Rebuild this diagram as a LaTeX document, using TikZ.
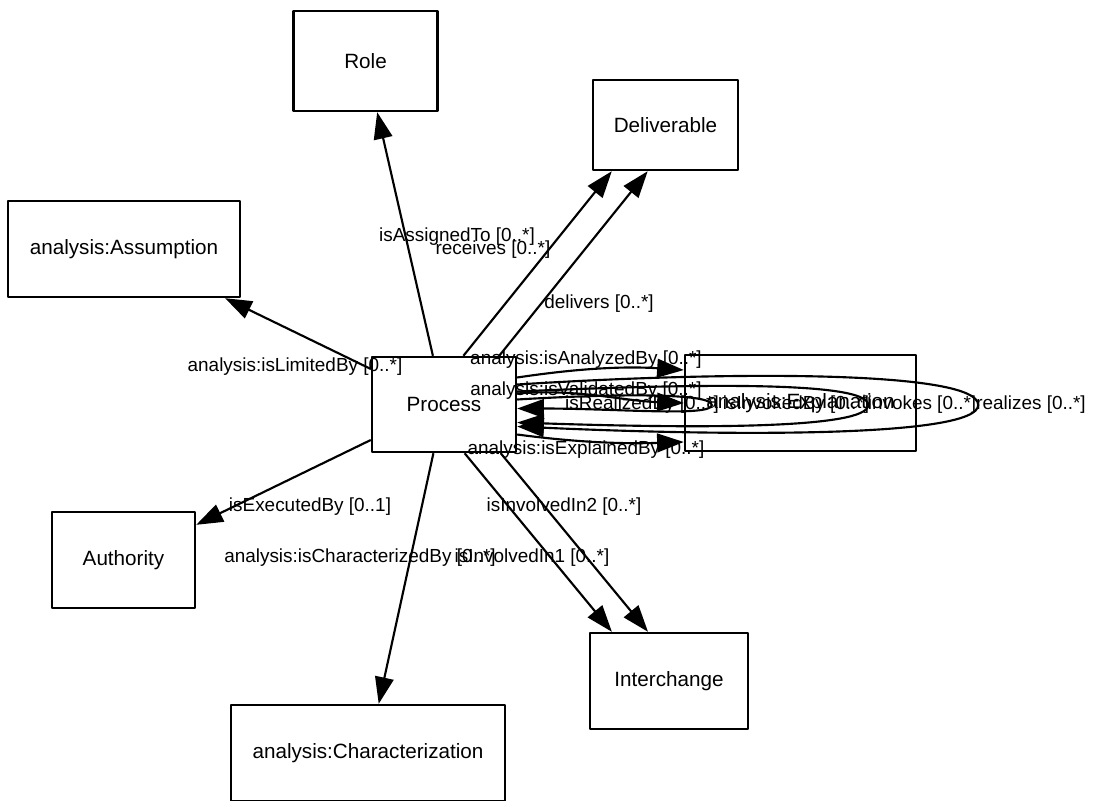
\documentclass[tikz,border=0pt]{standalone}
\usepackage{fontspec}
\setmainfont{Liberation Sans}
\usetikzlibrary{arrows.meta,calc}
\begin{document}
\begin{tikzpicture}[x=0.75pt,y=-0.75pt,
  every node/.style={font=\fontsize{14.2}{17}\selectfont},
  cls/.style={draw,line width=1.8pt,line join=round,inner sep=0pt,align=center,font=\fontsize{15.5}{18}\selectfont},
  rel/.style={line width=1.6pt,-{Triangle[length=20pt,width=14pt]}},
  lbl/.style={inner sep=0pt}]
\clip (0,0) rectangle (1099,800);
% classes
\node[cls,minimum width=108pt,minimum height=75pt] (role) at (365.5,61) {Role};
\node[cls,minimum width=108.75pt,minimum height=67.5pt] (deliv) at (665.5,125) {Deliverable};
\node[cls,minimum width=174pt,minimum height=72pt] (assump) at (124,249) {analysis:Assumption};
\node[cls,minimum width=108pt,minimum height=71.25pt] (process) at (444,404.5) {Process};
\node[cls,minimum width=173.25pt,minimum height=72pt] (expl) at (800.5,403) {analysis:Explanation};
\node[cls,minimum width=107.25pt,minimum height=72pt] (author) at (123.5,560) {Authority};
\node[cls,minimum width=118.5pt,minimum height=72pt] (inter) at (669,681) {Interchange};
\node[cls,minimum width=205.5pt,minimum height=72pt] (charac) at (368,753) {analysis:Characterization};
% straight relations
\draw[rel] (process) -- (role);
\draw[rel] (process) -- (assump);
\draw[rel] (process) -- (author);
\draw[rel] (process) -- (charac);
\draw[rel] ($(process.north)+(19.4,0)$) -- ($(deliv.south)+(-53.7,0)$);
\draw[rel] ($(process.north)+(55.2,0)$) -- ($(deliv.south)+(-17.8,0)$);
\draw[rel] ($(process.south)+(20.6,0)$) -- ($(inter.north)+(-57.1,0)$);
\draw[rel] ($(process.south)+(56.7,0)$) -- ($(inter.north)+(-21,0)$);
% Process -> Explanation
\draw[rel] ($(process.east)+(0,-27)$) .. controls +(60,-9) and +(-60,-4) .. ($(expl.west)+(0,-33)$);
\draw[rel] ($(process.east)+(0,-11)$) .. controls +(60,-5) and +(-60,-2) .. (expl.west);
\draw[rel] ($(process.east)+(0,30)$) .. controls +(60,8) and +(-60,2) .. ($(expl.west)+(0,39)$);
% loops
\draw[rel] ($(process.east)+(0,-20)$) .. controls +(220,-14) and +(0,-34) .. ($(expl.east)+(61,2)$)
  .. controls +(0,32) and +(220,10) .. ($(process.east)+(0,22)$);
\draw[rel] ($(process.east)+(0,-13)$) .. controls +(180,-8) and +(0,-24) .. ($(expl.east)+(-49,2)$)
  .. controls +(0,24) and +(180,6) .. ($(process.east)+(0,18)$);
\draw[rel] ($(process.east)+(0,-5)$) .. controls +(100,-6) and +(0,-12) .. ($(expl.west)+(28,2)$)
  .. controls +(0,12) and +(100,0) .. ($(process.east)+(0,4)$);
% labels
\node[lbl] (l1) at (457,237) {isAssignedTo [0..*]};
\node[lbl] (l2) at (493,250) {receives [0..*]};
\node[lbl] (l3) at (599,304) {delivers [0..*]};
\node[lbl] (l4) at (295,367) {analysis:isLimitedBy [0..*]};
\node[lbl] (l5) at (586,360) {analysis:isAnalyzedBy [0..*]};
\node[lbl] (l6) at (586,391) {analysis:isValidatedBy [0..*]};
\node[lbl] (l7) at (642,405) {isRealizedBy [0..*]};
\node[lbl] (l8) at (796,405) {isInvokedBy [0..*]};
\node[lbl] (l9) at (922,405) {invokes [0..*]};
\node[lbl] (l10) at (1031,405) {realizes [0..*]};
\node[lbl] (l11) at (586,450) {analysis:isExplainedBy [0..*]};
\node[lbl] (l12) at (310,507) {isExecutedBy [0..1]};
\node[lbl] (l13) at (564,507) {isInvolvedIn2 [0..*]};
\node[lbl] (l14) at (360,558) {analysis:isCharacterizedBy [0..*]};
\node[lbl] (l15) at (532,558) {isInvolvedIn1 [0..*]};
\end{tikzpicture}
\end{document}
